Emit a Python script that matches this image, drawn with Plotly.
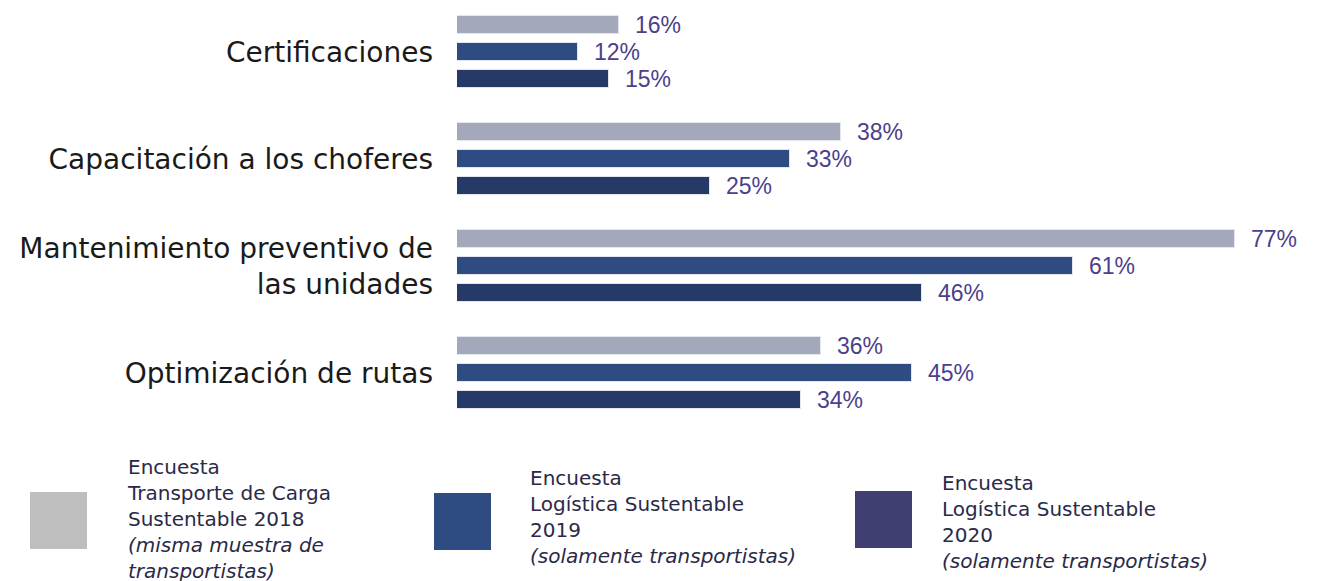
import plotly.graph_objects as go

# page body adds an 8px margin; work in reference pixels and shift
OFF = 8
W, H = 1319 - OFF, 581 - OFF

categories = ["Certificaciones", "Capacitación a los choferes",
              "Mantenimiento preventivo de<br>las unidades", "Optimización de rutas"]
s2018 = [16, 38, 77, 36]
s2019 = [12, 33, 61, 45]
s2020 = [15, 25, 46, 34]
series_values = [s2018, s2019, s2020]
bar_colors = ["#A3A8BA", "#2E4C82", "#253A66"]
legend_colors = ["#BEBEBE", "#2E4C82", "#3F3F72"]
legend_texts = [
    "Encuesta<br>Transporte de Carga<br>Sustentable 2018<br><i>(misma muestra de</i><br><i>transportistas)</i>",
    "Encuesta<br>Logística Sustentable<br>2019<br><i>(solamente transportistas)</i>",
    "Encuesta<br>Logística Sustentable<br>2020<br><i>(solamente transportistas)</i>",
]

def px_x(x):
    return (x - OFF) / W

def px_y(y):
    return 1 - (y - OFF) / H

# layout geometry (reference pixels)
plot_left, plot_top, plot_bottom = 457, 8, 430
group_px = 107.0
first_center = 52.0
slot_px = 27.0
bar_px = 18.0
unit_px = (1235 - plot_left) / 77.0
xmax = (1319 - plot_left) / unit_px

offsets = [-slot_px / group_px, 0.0, slot_px / group_px]
idx = list(range(len(categories)))

fig = go.Figure()
for k, vals in enumerate(series_values):
    fig.add_trace(go.Bar(
        x=vals, y=[i + offsets[k] for i in idx], orientation="h",
        width=bar_px / group_px,
        marker=dict(color=bar_colors[k], line=dict(color="#E3E6EE", width=1)),
        showlegend=False, hoverinfo="x",
    ))
    for i, v in zip(idx, vals):
        fig.add_annotation(x=v, y=i + offsets[k], xref="x", yref="y",
                           text=f"{v}%", showarrow=False, xanchor="left",
                           xshift=14, yanchor="middle",
                           font=dict(family="Liberation Sans, Arial", size=23, color="#4B408C"))

y_top = (plot_top - first_center) / group_px
y_bot = (plot_bottom - first_center) / group_px

# legend squares and texts
sq = [(30, 492), (434, 493), (855, 491)]
txt = [(125, 519), (528, 517), (940, 522)]
for k in range(3):
    x0, y0 = sq[k]
    fig.add_shape(type="rect", xref="paper", yref="paper",
                  x0=px_x(x0), x1=px_x(x0 + 57), y0=px_y(y0), y1=px_y(y0 + 57),
                  fillcolor=legend_colors[k], line=dict(width=0))
    tx, ty = txt[k]
    fig.add_annotation(x=px_x(tx), y=px_y(ty), xref="paper", yref="paper",
                       text=legend_texts[k], showarrow=False, xanchor="left",
                       yanchor="middle", align="left",
                       font=dict(family="DejaVu Sans", size=20, color="#2A2A48"))

fig.update_layout(
    width=W, height=H,
    margin=dict(l=0, r=0, t=0, b=0),
    paper_bgcolor="white", plot_bgcolor="white",
    bargap=0,
    xaxis=dict(domain=[px_x(plot_left), 1], range=[0, xmax], visible=False,
               showgrid=False, zeroline=False, automargin=False),
    yaxis=dict(domain=[px_y(plot_bottom), px_y(plot_top)], range=[y_bot, y_top],
               tickmode="array", tickvals=idx, ticktext=categories,
               showgrid=False, zeroline=False, showline=False, ticks="",
               ticklabelstandoff=23, automargin=False,
               tickfont=dict(family="DejaVu Sans", size=28, color="#1A1A1A")),
)

fig.write_html("out.html")
